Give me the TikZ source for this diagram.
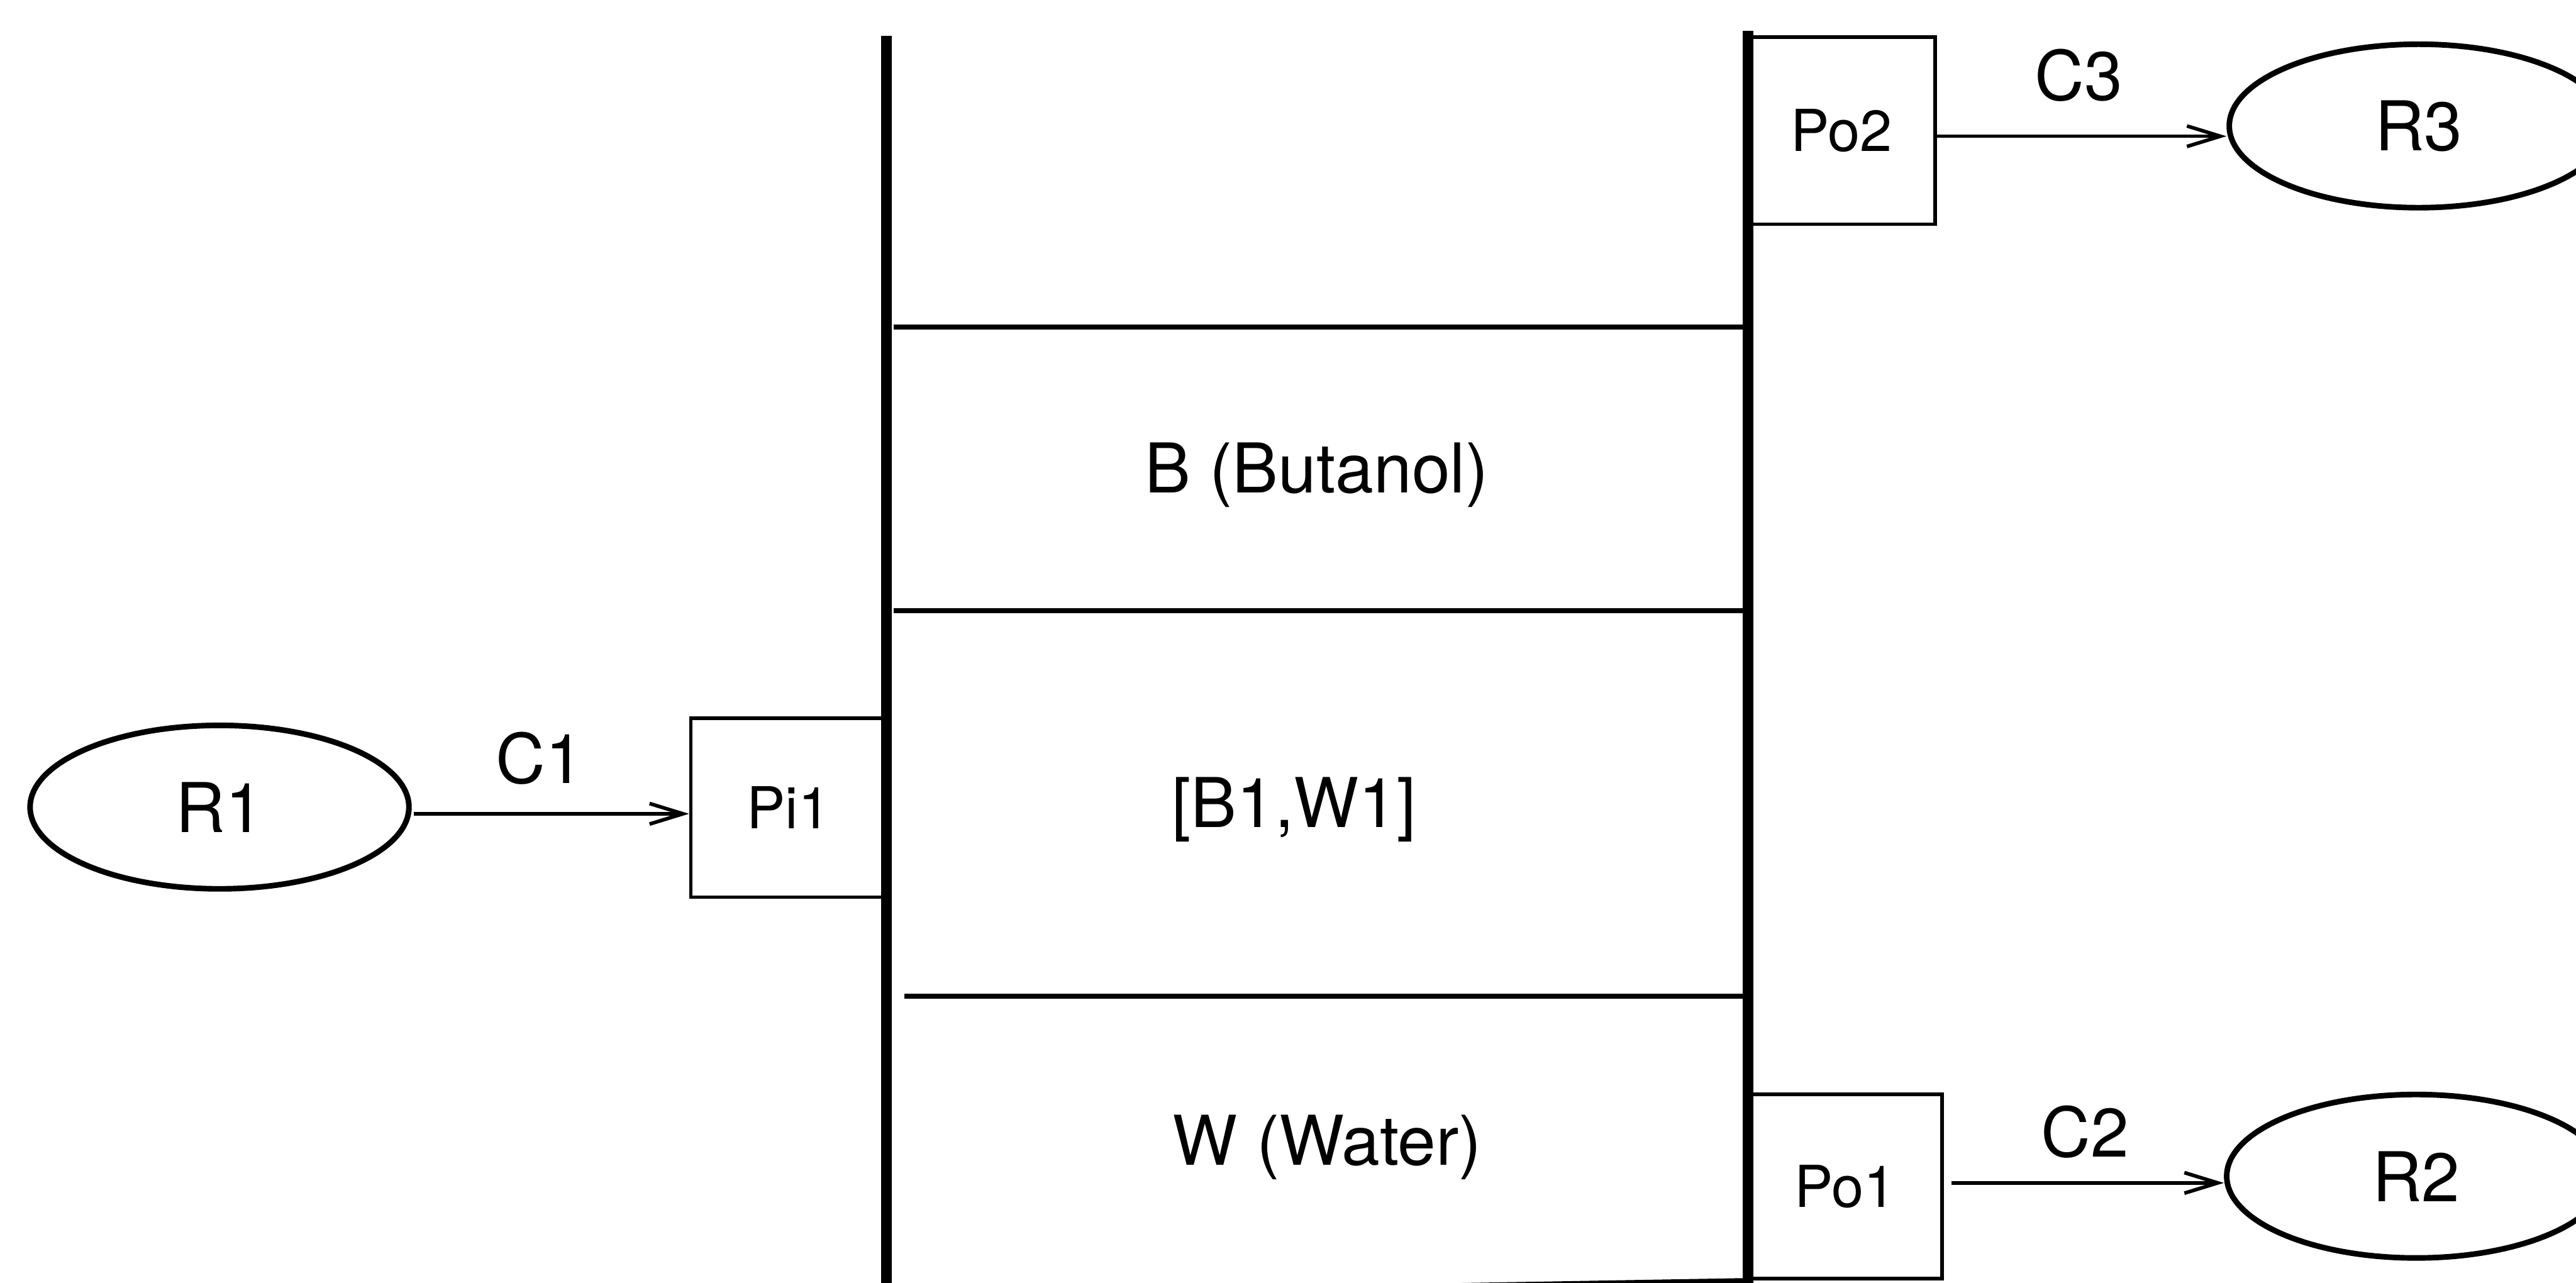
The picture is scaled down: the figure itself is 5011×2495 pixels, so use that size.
\documentclass[tikz,border=0pt]{standalone}
\usepackage{fontspec}
\setmainfont{TeX Gyre Heros}
\usetikzlibrary{shapes.geometric,arrows.meta,calc}
\newcommand\biglabel{\fontsize{38}{40}\selectfont}
\newcommand\smalllabel{\fontsize{32}{34}\selectfont}
\begin{document}
\begin{tikzpicture}[x=0.1mm,y=-0.1mm,
  res/.style={ellipse,draw,line width=3.1pt,minimum width=73.7mm,
              minimum height=31.8mm,inner sep=0pt,font=\biglabel},
  port/.style={rectangle,draw,line width=2pt,inner sep=0pt,font=\smalllabel},
  conn/.style={line width=2pt,-{Straight Barb[length=6.5mm,width=4mm]}},
  wall/.style={line width=6pt},
  layer/.style={line width=2.8pt},
  tag/.style={inner sep=0pt,font=\biglabel},
]
% canvas
\useasboundingbox (0,0) rectangle (5011,2495);
\fill[white] (0,0) rectangle (5011,2495);
\clip (0,0) rectangle (5011,2495);

% vessel walls
\coordinate (lwtop) at (1724,70);
\coordinate (lwbot) at (1724,2530);
\coordinate (rwtop) at (3400,60);
\coordinate (rwbot) at (3400,2530);
\draw[wall] (lwtop) -- (lwbot);
\draw[wall] (rwtop) -- (rwbot);

% phase boundaries
\draw[layer] (1738,636) -- (3400,636);
\draw[layer] (1738,1188) -- (3400,1188);
\draw[layer] (1759,1938) -- (3400,1938);
\draw[layer] (1724,2520) -- (3400,2491);

% phase labels
\node[tag,anchor=base] (butanol) at (2561,958) {B (Butanol)};
\node[tag,anchor=base] (mix) at (2517,1609) {[B1,W1]};
\node[tag,anchor=base] (water) at (2582,2266) {W (Water)};

% ports
\node[port,minimum width=38mm,minimum height=34.8mm] (Pi1) at (1534,1571) {Pi1};
\node[port,minimum width=36.4mm,minimum height=36.4mm] (Po2) at (3582,254) {Po2};
\node[port,minimum width=37.7mm,minimum height=35.9mm] (Po1) at (3589,2308) {Po1};

% reservoirs
\node[res] (R1) at (427,1570) {R1};
\node[res] (R3) at (4705,245) {R3};
\node[res] (R2) at (4700,2288) {R2};

% connections
\draw[conn] ($(R1.east)+(4,13)$) -- ($(Pi1.west)+(0,12)$)
  node[tag,pos=0.457,above=5.3mm] (C1) {C1};
\draw[conn] ($(Po2.east)+(0,11)$) -- ($(R3.west)+(0,20)$)
  node[tag,pos=0.49,above=6.4mm] (C3) {C3};
\draw[conn] ($(Po1.east)+(15,-7)$) -- ($(R2.west)+(0,13)$)
  node[tag,pos=0.49,above=4.5mm] (C2) {C2};
\end{tikzpicture}
\end{document}
